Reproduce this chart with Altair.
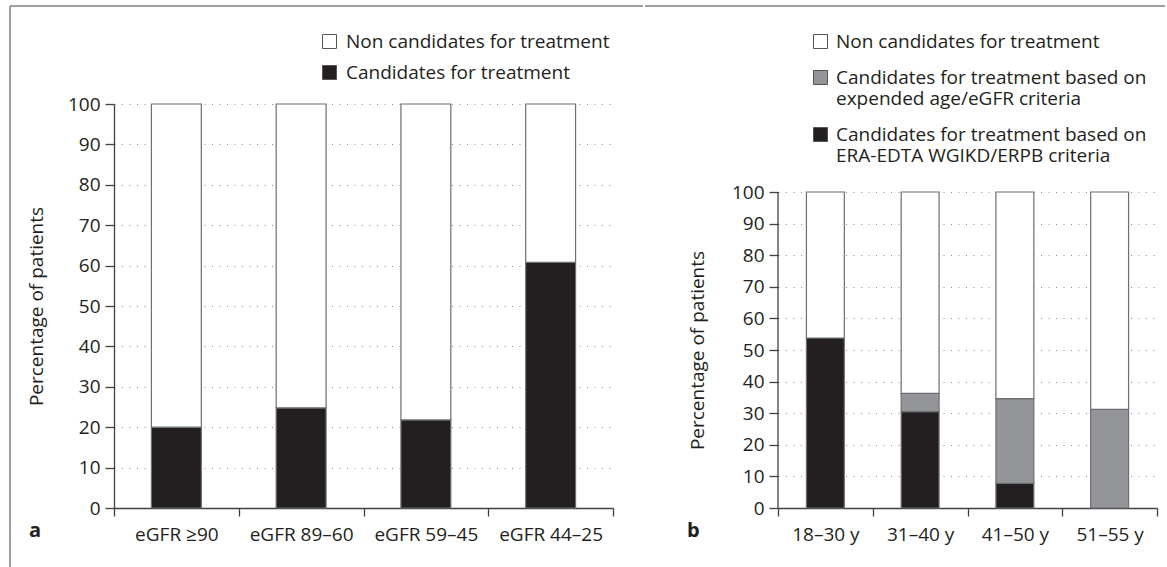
import altair as alt
import pandas as pd

FONT = "Open Sans"
INK = "#231f20"
GREY = "#939598"
EDGE = "#6d6e71"
AXIS = "#414042"

# ---- panel a data ----
cats_a = ["eGFR ≥90", "eGFR 89–60", "eGFR 59–45", "eGFR 44–25"]
series_a = ["Non candidates for treatment", "Candidates for treatment"]
cand_a = [20.0, 24.8, 21.8, 60.8]
non_a = [80.0, 75.2, 78.2, 39.2]

# ---- panel b data ----
cats_b = ["18–30 y", "31–40 y", "41–50 y", "51–55 y"]
series_b = [
    "Non candidates for treatment",
    "Candidates for treatment based on expended age/eGFR criteria",
    "Candidates for treatment based on ERA-EDTA WGIKD/ERPB criteria",
]
era_b = [53.8, 30.5, 7.8, 0.0]
exp_b = [0.0, 5.8, 26.8, 31.2]
non_b = [46.2, 63.7, 65.4, 68.8]

y_ticks = list(range(0, 101, 10))

rows_a = []
for i, c in enumerate(cats_a):
    rows_a.append({"cat": c, "series": series_a[1], "value": cand_a[i], "ord": 0})
    rows_a.append({"cat": c, "series": series_a[0], "value": non_a[i], "ord": 1})
df_a = pd.DataFrame(rows_a)

rows_b = []
for i, c in enumerate(cats_b):
    rows_b.append({"cat": c, "series": series_b[2], "value": era_b[i], "ord": 0})
    rows_b.append({"cat": c, "series": series_b[1], "value": exp_b[i], "ord": 1})
    rows_b.append({"cat": c, "series": series_b[0], "value": non_b[i], "ord": 2})
df_b = pd.DataFrame(rows_b)
df_b = df_b[df_b["value"] > 0]

label_expr = ("indexof(datum.label, ' based on ') > 0 ? "
              "[substring(datum.label, 0, indexof(datum.label, ' based on ') + 9), "
              "substring(datum.label, indexof(datum.label, ' based on ') + 10)] : datum.label")

W_A, H_A = 499, 404
W_B, H = 379, 404          # both plots share the same pixel height
H_B_DATA = 316             # pixel height of 0..100 in panel b
DOM_B = 100.0 * H / H_B_DATA


def x_axis():
    return alt.Axis(title=None, labelAngle=0, tickBand="extent", tickSize=8,
                    labelPadding=9, labelFontSize=19, labelFont=FONT, labelColor=INK,
                    domainColor=AXIS, tickColor=AXIS, domainWidth=1.3,
                    tickWidth=1.3, grid=False)


def y_axis(domain_line, title_pad, title_y=None):
    kw = {}
    if title_y is not None:
        kw["titleY"] = title_y
    return alt.Axis(values=y_ticks, title="Percentage of patients", titleFont=FONT,
                    titleFontSize=19, titleFontWeight="normal", titleColor=INK,
                    titlePadding=title_pad, labelFont=FONT, labelFontSize=19, labelColor=INK,
                    labelPadding=5, tickSize=9, tickColor=AXIS, domain=domain_line,
                    domainColor=AXIS, domainWidth=1.3, tickWidth=1.3, grid=True,
                    gridColor="#8a8a8a", gridDash=[1, 6.5], gridWidth=1, **kw)


leg_a = alt.Legend(title=None, orient="none", legendX=206, legendY=-72,
                   symbolType="square", symbolSize=196, symbolStrokeColor="#555555",
                   symbolStrokeWidth=1, labelFont=FONT, labelFontSize=19, labelColor=INK,
                   rowPadding=11, padding=0, labelOffset=7, labelLimit=600)
leg_b = alt.Legend(title=None, orient="none", legendX=33, legendY=-72,
                   symbolType="square", symbolSize=196, symbolStrokeColor="#555555",
                   symbolStrokeWidth=1, labelFont=FONT, labelFontSize=19, labelColor=INK,
                   rowPadding=16, padding=0, labelOffset=6, labelLimit=600,
                   labelExpr=label_expr)

one = pd.DataFrame({"k": [0]})


def build(df, cats, series, colors, w, ydom, axis, legend, letter, left_x,
          top_from, top_to, left_rule, domain_top):
    bars = alt.Chart(df).mark_bar(stroke=EDGE, strokeWidth=1.2,
                                  width=alt.RelativeBandSize(0.4)).encode(
        x=alt.X("cat:N", sort=cats, scale=alt.Scale(paddingInner=0, paddingOuter=0),
                axis=x_axis()),
        y=alt.Y("value:Q", stack="zero", scale=alt.Scale(domain=[0, ydom], nice=False),
                axis=axis),
        color=alt.Color("series:N", scale=alt.Scale(domain=series, range=colors),
                        legend=legend),
        order=alt.Order("ord:Q", sort="ascending"),
    )
    letter_layer = alt.Chart(pd.DataFrame({"t": [letter]})).mark_text(
        font=FONT, fontSize=20, fontWeight="bold", color=INK, align="left",
        baseline="middle").encode(text="t:N", x=alt.value(left_x), y=alt.value(H + 23))
    top_rule = alt.Chart(one).mark_rule(color="#7f7f7f", strokeWidth=1.5).encode(
        x=alt.value(top_from), x2=alt.value(top_to), y=alt.value(-98))
    layers = [bars, letter_layer, top_rule]
    if domain_top is not None:
        # y-axis line covering only the 0..100 part of panel b
        layers.append(alt.Chart(one).mark_rule(color=AXIS, strokeWidth=1.3).encode(
            x=alt.value(0), y=alt.value(domain_top), y2=alt.value(H)))
    if left_rule is not None:
        layers.append(alt.Chart(one).mark_rule(color="#7f7f7f", strokeWidth=1.5).encode(
            x=alt.value(left_rule), y=alt.value(-98), y2=alt.value(H + 60)))
    return alt.layer(*layers).properties(width=w, height=H)


title_y_b = H - 50.0 * H / DOM_B

panel_a = build(df_a, cats_a, series_a, ["#ffffff", INK], W_A, 100, y_axis(True, 21),
                leg_a, "a", -85, -104, 529, -104, None)
panel_b = build(df_b, cats_b, series_b, ["#ffffff", GREY, INK], W_B, DOM_B,
                y_axis(False, 24, title_y_b), leg_b, "b", -91, -133, 387, None,
                H - H_B_DATA)

chart = alt.hconcat(panel_a, panel_b, spacing=0, bounds="full").resolve_scale(
    color="independent", x="independent", y="independent"
).properties(
    padding={"left": 9, "top": 5, "right": 0, "bottom": 0},
    background="white",
).configure_view(stroke=None)

chart.save("out.html", embed_options={"renderer": "svg", "actions": False})
